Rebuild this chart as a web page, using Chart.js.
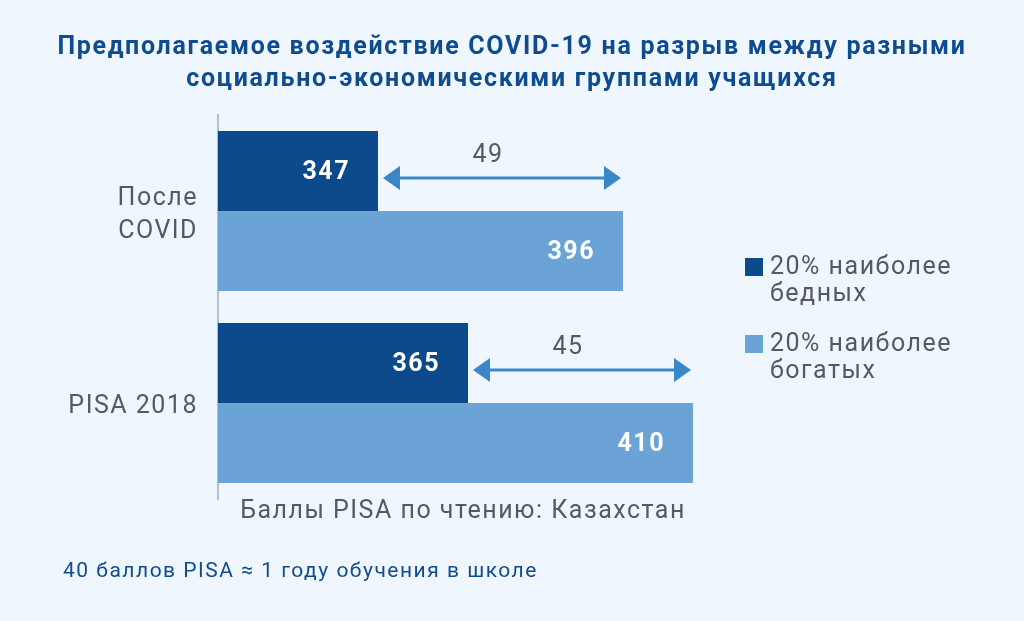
<!DOCTYPE html>
<html>
<head>
<meta charset="utf-8">
<script src="https://cdn.jsdelivr.net/npm/chart.js@4.4.1/dist/chart.umd.min.js"></script>
<style>
  html, body { margin: 0; padding: 0; background: #f0f6fd; }
  #wrap { width: 1024px; height: 621px; position: relative; }
</style>
</head>
<body>
<div id="wrap"><canvas id="chart" width="1024" height="621"></canvas></div>
<script>
// data
const categories = [['После', 'COVID'], 'PISA 2018'];
const poorest = [347, 365];
const richest = [396, 410];
const seriesNames = [['20% наиболее', 'бедных'], ['20% наиболее', 'богатых']];
const titleLines = ['Предполагаемое воздействие COVID-19 на разрыв между разными', 'социально-экономическими группами учащихся'];
const axisTitle = 'Баллы PISA по чтению: Казахстан';
const footnote = '40 баллов PISA ≈ 1 году обучения в школе';

const darkBlue = '#0d4a8c';
const lightBlue = '#6ca3d6';
const arrowBlue = '#3a87c8';
const grayText = '#555a60';
const font = 'Roboto, "Liberation Sans", sans-serif';

// wider tracking like the original artwork
const spacing = {
  id: 'spacing',
  beforeDraw(chart) { chart.ctx.letterSpacing = '1.5px'; }
};

const extras = {
  id: 'extras',
  afterDatasetsDraw(chart) {
    const ctx = chart.ctx;
    ctx.save();
    ctx.letterSpacing = '1.5px';

    // value labels inside bar ends
    ctx.font = 'bold 25px ' + font;
    ctx.fillStyle = '#ffffff';
    ctx.textAlign = 'right';
    ctx.textBaseline = 'middle';
    chart.data.datasets.forEach((ds, di) => {
      chart.getDatasetMeta(di).data.forEach((bar, i) => {
        ctx.fillText(ds.data[i], bar.x - 28, bar.y + 2);
      });
    });

    // gap arrows
    const m0 = chart.getDatasetMeta(0).data;
    const m1 = chart.getDatasetMeta(1).data;
    m0.forEach((bar, i) => {
      const x1 = bar.x + 5;
      const x2 = m1[i].x - 2;
      const y = bar.y + 7;
      ctx.strokeStyle = arrowBlue;
      ctx.fillStyle = arrowBlue;
      ctx.lineWidth = 3;
      ctx.beginPath();
      ctx.moveTo(x1 + 10, y);
      ctx.lineTo(x2 - 10, y);
      ctx.stroke();
      ctx.beginPath();
      ctx.moveTo(x1, y); ctx.lineTo(x1 + 17, y - 12); ctx.lineTo(x1 + 17, y + 12); ctx.closePath();
      ctx.fill();
      ctx.beginPath();
      ctx.moveTo(x2, y); ctx.lineTo(x2 - 17, y - 12); ctx.lineTo(x2 - 17, y + 12); ctx.closePath();
      ctx.fill();
      ctx.font = '25px ' + font;
      ctx.fillStyle = grayText;
      ctx.textAlign = 'center';
      ctx.fillText(richest[i] - poorest[i], (x1 + x2) / 2 - 14, y - 22);
    });

    // title
    ctx.font = 'bold 25px ' + font;
    ctx.letterSpacing = '1.7px';
    ctx.fillStyle = '#0f4c8f';
    ctx.textAlign = 'center';
    titleLines.forEach((t, i) => ctx.fillText(t, 512, 48 + i * 32));
    ctx.letterSpacing = '1.5px';

    // axis title
    ctx.font = '25px ' + font;
    ctx.fillStyle = grayText;
    ctx.fillText(axisTitle, (chart.chartArea.left + chart.chartArea.right) / 2, 512);

    // footnote
    ctx.font = '21px ' + font;
    ctx.fillStyle = '#0f4c8f';
    ctx.textAlign = 'left';
    ctx.fillText(footnote, 63, 572);

    // legend
    const colors = [darkBlue, lightBlue];
    ctx.font = '25px ' + font;
    seriesNames.forEach((lines, i) => {
      const top = 258 + i * 77;
      ctx.fillStyle = colors[i];
      ctx.fillRect(745, top, 18, 18);
      ctx.fillStyle = grayText;
      lines.forEach((l, j) => ctx.fillText(l, 770, top + 10 + j * 27));
    });
    ctx.restore();
  }
};

new Chart(document.getElementById('chart'), {
  type: 'bar',
  data: {
    labels: categories,
    datasets: [
      { label: 'poorest', data: poorest, backgroundColor: darkBlue },
      { label: 'richest', data: richest, backgroundColor: lightBlue }
    ]
  },
  options: {
    indexAxis: 'y',
    responsive: false,
    animation: false,
    layout: { padding: { left: 0, top: 115, right: 316, bottom: 122 } },
    categoryPercentage: 0.833,
    barPercentage: 1.0,
    plugins: { legend: { display: false }, tooltip: { enabled: false } },
    scales: {
      x: { display: false, min: 315, max: 413 },
      y: {
        grid: { display: false },
        border: { display: true, color: '#b9bec5', width: 2 },
        ticks: { color: grayText, font: { family: font, size: 25, lineHeight: 1.3 }, padding: 12, labelOffset: 4 },
        afterFit(scale) { scale.width = 218; }
      }
    }
  },
  plugins: [spacing, extras]
});
</script>
</body>
</html>
